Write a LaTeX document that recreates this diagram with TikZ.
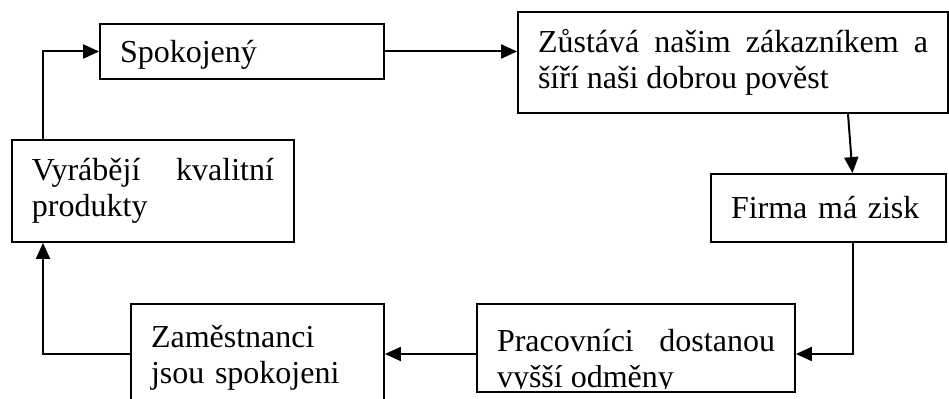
\documentclass[tikz,border=0pt]{standalone}
\usepackage{fontspec}
\setmainfont{Liberation Serif}
\usepackage{trimclip}
\usetikzlibrary{arrows.meta}
\begin{document}
\begin{tikzpicture}[x=0.5pt,y=-0.5pt,
        box/.style={draw,rectangle,line width=0.9pt,inner xsep=10pt,inner ysep=0pt,font=\fontsize{16}{18}\selectfont},
        arr/.style={line width=1pt,-{Triangle[length=8pt,width=7pt]}}]
    \clip (0,0) rectangle (949,399);
    \node[box,minimum width=142pt,minimum height=27.5pt,text width=122pt,align=left,text depth=0pt] (satisf) at (242,51.5) {Spokojený};
    \node[box,minimum width=215pt,minimum height=50.5pt,text width=195pt,align=justify] (stay) at (733,62.5) {Zůstává našim zákazníkem a\linebreak šíří naši dobrou pověst};
    \node[box,minimum width=117.5pt,minimum height=34pt,text width=97.5pt,align=left] (profit) at (828.5,208) {Firma má zisk};
    \node[box,minimum width=159pt,minimum height=44pt,text width=139pt,align=justify,execute at begin node={\vskip 4pt}] (reward) at (636,348) {Pracovníci dostanou\linebreak \clipbox{0pt 3.2pt 0pt 0pt}{vyšší odměny}};
    \node[box,minimum width=126.5pt,minimum height=54pt,text width=106.5pt,align=left] (staff) at (257.5,358) {Zaměstnanci\\jsou spokojeni};
    \node[box,minimum width=141pt,minimum height=51pt,text width=121pt,align=justify] (quality) at (153,191) {Vyrábějí kvalitní\linebreak produkty};
    % the cycle
    \draw[arr] (satisf.east) -- (satisf.east -| stay.west);
    \draw[arr] ([xshift=57.5pt]stay.south) -- ([xshift=12pt]profit.north);
    \draw[arr] ([xshift=12.25pt]profit.south) |- ([yshift=-3pt]reward.east);
    \draw[arr] ([yshift=-3pt]reward.west) -- ([yshift=2pt]staff.east);
    \draw[arr] ([yshift=2pt]staff.west) -| ([xshift=-55pt]quality.south);
    \draw[arr] ([xshift=-55pt]quality.north) |- (satisf.west);
\end{tikzpicture}
\end{document}
